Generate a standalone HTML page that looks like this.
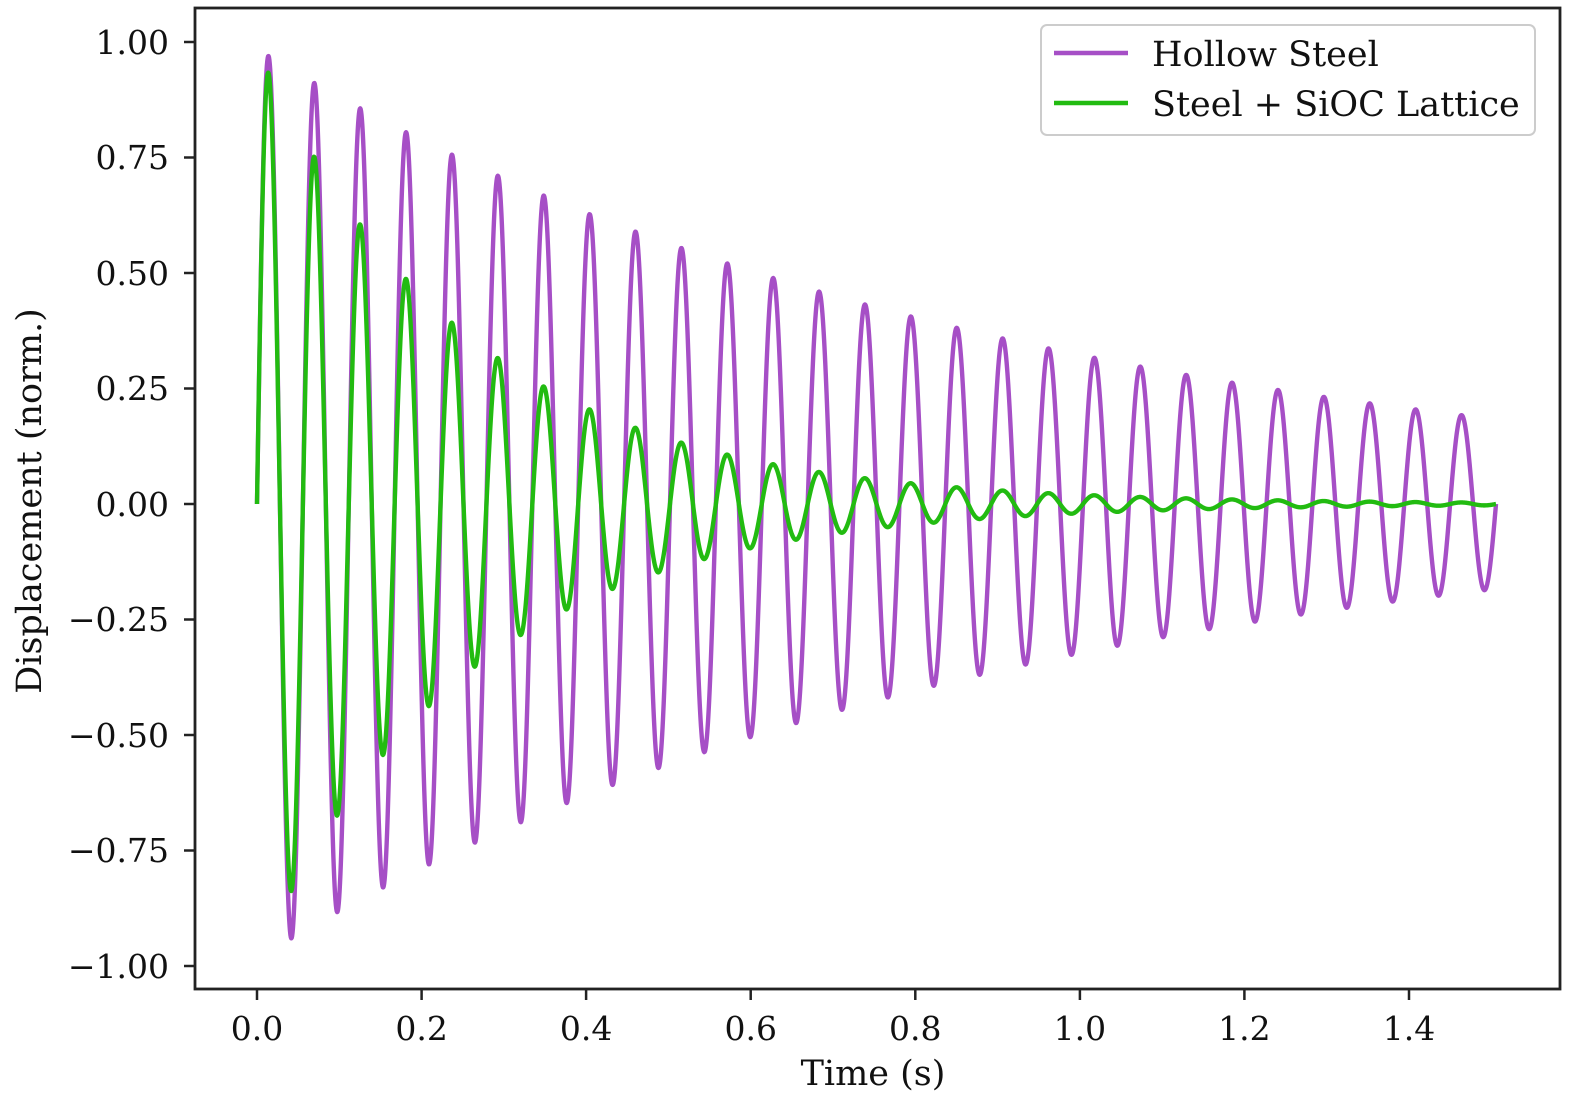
<!DOCTYPE html>
<html><head><meta charset="utf-8"><style>
body{margin:0;background:#fff;}
svg text{font-family:"DejaVu Serif","Liberation Serif",serif;fill:#111;}
</style></head><body>
<svg id="s" width="1575" height="1112" xmlns="http://www.w3.org/2000/svg">
<rect width="1575" height="1112" fill="#fff"/>
<path id="pp" fill="none" stroke="#a64fc6" stroke-width="4.4" stroke-linejoin="round"/>
<path id="gp" fill="none" stroke="#22bb11" stroke-width="4.4" stroke-linejoin="round"/>
<rect x="195" y="8" width="1365" height="981" fill="none" stroke="#222" stroke-width="2.8"/>
<g stroke="#222" stroke-width="2.5">
<line x1="184" x2="195" y1="42" y2="42"/><line x1="184" x2="195" y1="157.5" y2="157.5"/>
<line x1="184" x2="195" y1="273" y2="273"/><line x1="184" x2="195" y1="388.5" y2="388.5"/>
<line x1="184" x2="195" y1="504" y2="504"/><line x1="184" x2="195" y1="619.5" y2="619.5"/>
<line x1="184" x2="195" y1="735" y2="735"/><line x1="184" x2="195" y1="850.5" y2="850.5"/>
<line x1="184" x2="195" y1="966" y2="966"/>
<line y1="989" y2="1000" x1="257" x2="257"/><line y1="989" y2="1000" x1="421.6" x2="421.6"/>
<line y1="989" y2="1000" x1="586.1" x2="586.1"/><line y1="989" y2="1000" x1="750.7" x2="750.7"/>
<line y1="989" y2="1000" x1="915.3" x2="915.3"/><line y1="989" y2="1000" x1="1079.9" x2="1079.9"/>
<line y1="989" y2="1000" x1="1244.4" x2="1244.4"/><line y1="989" y2="1000" x1="1409" x2="1409"/>
</g>
<g font-size="33" text-anchor="end">
<text x="169" y="54">1.00</text><text x="169" y="169">0.75</text><text x="169" y="285">0.50</text>
<text x="169" y="400">0.25</text><text x="169" y="516">0.00</text><text x="169" y="631">−0.25</text>
<text x="169" y="747">−0.50</text><text x="169" y="862">−0.75</text><text x="169" y="978">−1.00</text>
</g>
<g font-size="33" text-anchor="middle">
<text x="257" y="1040">0.0</text><text x="421.6" y="1040">0.2</text><text x="586.1" y="1040">0.4</text>
<text x="750.7" y="1040">0.6</text><text x="915.3" y="1040">0.8</text><text x="1079.9" y="1040">1.0</text>
<text x="1244.4" y="1040">1.2</text><text x="1409" y="1040">1.4</text>
<text x="873" y="1085" font-size="35">Time (s)</text>
<text transform="translate(41,501) rotate(-90)" font-size="35">Displacement (norm.)</text>
</g>
<rect x="1041" y="25" width="494" height="110" rx="6" fill="#fff" fill-opacity="0.85" stroke="#ccc" stroke-width="2"/>
<line x1="1054" x2="1128" y1="53" y2="53" stroke="#a64fc6" stroke-width="4.4"/>
<line x1="1054" x2="1128" y1="103" y2="103" stroke="#22bb11" stroke-width="4.4"/>
<text x="1152" y="66" font-size="35">Hollow Steel</text>
<text x="1152" y="116" font-size="35">Steel + SiOC Lattice</text>
</svg>
<script>
function mk(d){var s="";for(var i=0;i<=3000;i++){var t=1.5*i/3000;var y=0.985*Math.exp(-d*t)*Math.sin(2*Math.PI*18*t);
s+=(i?"L":"M")+(257+826*t).toFixed(2)+","+(504-462*y).toFixed(2);}return s;}
document.getElementById("pp").setAttribute("d",mk(1.12));
document.getElementById("gp").setAttribute("d",mk(3.9));
</script>
</body></html>
